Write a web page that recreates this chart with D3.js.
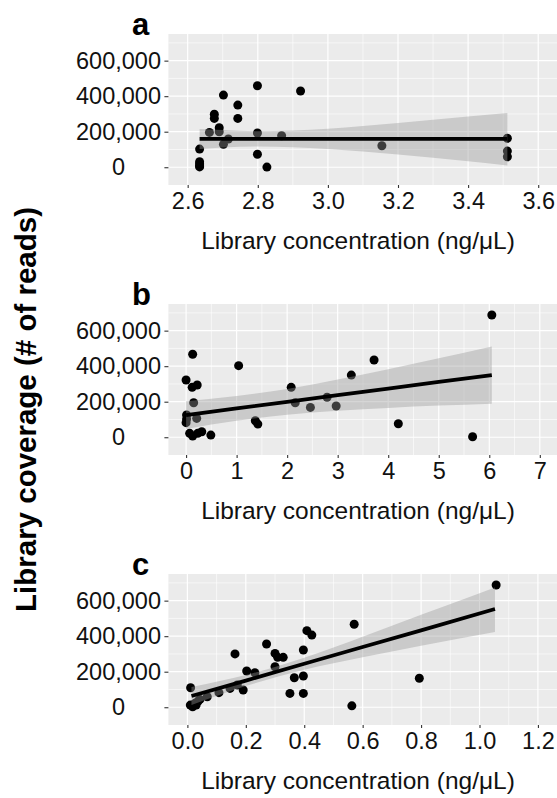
<!DOCTYPE html>
<html>
<head>
<meta charset="utf-8">
<script src="https://cdn.jsdelivr.net/npm/d3@7"></script>
<style>
  body { margin: 0; background: #fff; }
  svg { display: block; font-family: "Liberation Sans", Arial, sans-serif; }
</style>
</head>
<body>
<div id="chart"></div>
<script>
// panel a
const concA = [2.634, 2.634, 2.634, 2.634, 2.634, 2.662, 2.676, 2.676, 2.690, 2.690, 2.702, 2.702, 2.716, 2.743, 2.743, 2.799, 2.799, 2.799, 2.826, 2.868, 2.922, 3.154, 3.512, 3.512, 3.512];
const readsA = [102000, 31000, 18000, 8000, 2000, 196000, 298000, 275000, 222000, 200000, 406000, 129000, 159000, 350000, 275000, 459000, 193000, 73000, 1000, 177000, 429000, 121000, 163000, 91000, 59000];
const bandA_x = [2.634, 2.7, 2.8, 3.0, 3.2, 3.4, 3.512];
const bandA_fit = [160000, 160000, 160000, 160000, 160000, 160000, 160000];
const bandA_lo = [103000, 111000, 117000, 103000, 71000, 34000, 10000];
const bandA_hi = [215000, 209000, 203000, 217000, 249000, 286000, 306000];

// panel b
const concB = [0.13, 0.00, 0.12, 0.22, 0.15, 0.01, 0.01, 0.00, 0.21, 0.07, 0.13, 0.23, 0.31, 0.49, 1.04, 1.37, 1.42, 2.08, 2.16, 2.46, 2.79, 2.97, 3.27, 3.72, 4.20, 5.67, 6.05];
const readsB = [467000, 322000, 281000, 294000, 194000, 125000, 102000, 82000, 106000, 22000, 7000, 22000, 31000, 12000, 403000, 93000, 74000, 281000, 194000, 168000, 225000, 176000, 350000, 435000, 76000, 3000, 688000];
const bandB_x = [0, 1, 2, 3, 4, 5, 6.05];
const bandB_fit = [125000, 162000, 199000, 237000, 274000, 311000, 350000];
const bandB_lo = [47000, 93000, 126000, 149000, 165000, 178000, 189000];
const bandB_hi = [203000, 232000, 272000, 325000, 383000, 444000, 511000];

// panel c
const concC = [0.011, 0.010, 0.018, 0.026, 0.030, 0.037, 0.043, 0.068, 0.108, 0.146, 0.163, 0.171, 0.191, 0.203, 0.231, 0.271, 0.300, 0.300, 0.309, 0.328, 0.351, 0.366, 0.397, 0.397, 0.397, 0.409, 0.426, 0.563, 0.571, 0.794, 1.057];
const readsC = [110000, 12000, 3000, 22000, 12000, 35000, 44000, 59000, 82000, 106000, 300000, 125000, 97000, 204000, 194000, 356000, 303000, 228000, 281000, 281000, 78000, 166000, 322000, 176000, 78000, 431000, 406000, 8000, 467000, 163000, 688000];
const bandC_x = [0.014, 0.2, 0.4, 0.6, 0.8, 1.053];
const bandC_fit = [63000, 150000, 245000, 339000, 433000, 553000];
const bandC_lo = [12000, 119000, 211000, 281000, 346000, 424000];
const bandC_hi = [114000, 181000, 279000, 397000, 520000, 674000];

// ticks
const yTicks = [0, 200000, 400000, 600000];
const yMinor = [100000, 300000, 500000, 700000];
const xTicksA = [2.6, 2.8, 3.0, 3.2, 3.4, 3.6];
const xMinorA = [2.7, 2.9, 3.1, 3.3, 3.5];
const xTicksB = [0, 1, 2, 3, 4, 5, 6, 7];
const xMinorB = [0.5, 1.5, 2.5, 3.5, 4.5, 5.5, 6.5];
const xTicksC = [0, 0.2, 0.4, 0.6, 0.8, 1.0, 1.2];
const xMinorC = [0.1, 0.3, 0.5, 0.7, 0.9, 1.1];

const width = 557;
const height = 798;
const left = 168.4;
const right = 557.5;
const panelH = 151;
const yLabelCenter = 118.5; // y tick labels are centred, not right aligned

const svg = d3.select("#chart")
  .append("svg")
  .attr("width", width)
  .attr("height", height);

function drawPanel(p) {
  const x = d3.scaleLinear().domain(p.xDomain).range([left, right]);
  const y = d3.scaleLinear().domain([-100000, 750000]).range([p.top + panelH, p.top]);
  const g = svg.append("g");

  g.append("rect")
    .attr("x", left).attr("y", p.top)
    .attr("width", right - left).attr("height", panelH)
    .attr("fill", "#ebebeb");

  // minor grid
  g.selectAll(".vminor").data(p.xMinor).enter().append("line")
    .attr("x1", d => x(d)).attr("x2", d => x(d))
    .attr("y1", p.top).attr("y2", p.top + panelH)
    .attr("stroke", "#fff").attr("stroke-width", 0.6);
  g.selectAll(".hminor").data(yMinor).enter().append("line")
    .attr("x1", left).attr("x2", right)
    .attr("y1", d => y(d)).attr("y2", d => y(d))
    .attr("stroke", "#fff").attr("stroke-width", 0.6);
  // major grid
  g.selectAll(".vmajor").data(p.xTicks).enter().append("line")
    .attr("x1", d => x(d)).attr("x2", d => x(d))
    .attr("y1", p.top).attr("y2", p.top + panelH)
    .attr("stroke", "#fff").attr("stroke-width", 1.2);
  g.selectAll(".hmajor").data(yTicks).enter().append("line")
    .attr("x1", left).attr("x2", right)
    .attr("y1", d => y(d)).attr("y2", d => y(d))
    .attr("stroke", "#fff").attr("stroke-width", 1.2);

  // points first, ribbon goes over them like geom_smooth
  g.selectAll(".pt").data(p.conc).enter().append("circle")
    .attr("cx", d => x(d))
    .attr("cy", (d, i) => y(p.reads[i]))
    .attr("r", 4.5)
    .attr("fill", "#000");

  const band = p.bandX.map((d, i) => ({ x: d, lo: p.bandLo[i], hi: p.bandHi[i], fit: p.bandFit[i] }));
  const area = d3.area()
    .x(d => x(d.x))
    .y0(d => y(d.lo))
    .y1(d => y(d.hi))
    .curve(d3.curveMonotoneX);
  g.append("path")
    .datum(band)
    .attr("d", area)
    .attr("fill", "#999999")
    .attr("fill-opacity", 0.4);

  const line = d3.line().x(d => x(d.x)).y(d => y(d.fit));
  g.append("path")
    .datum(band)
    .attr("d", line)
    .attr("fill", "none")
    .attr("stroke", "#000")
    .attr("stroke-width", 3.8);

  // axes
  const yAxis = d3.axisLeft(y).tickValues(yTicks).tickFormat(d3.format(",")).tickSize(4);
  const ya = g.append("g").attr("transform", `translate(${left},0)`).call(yAxis);
  ya.selectAll(".tick text")
    .attr("x", yLabelCenter - left)
    .attr("text-anchor", "middle");
  const xAxis = d3.axisBottom(x).tickValues(p.xTicks).tickFormat(p.fmt).tickSize(3).tickPadding(4);
  const xa = g.append("g").attr("transform", `translate(0,${p.top + panelH})`).call(xAxis);
  [ya, xa].forEach(a => {
    a.select(".domain").remove();
    a.selectAll(".tick line").attr("stroke", "#333").attr("stroke-width", 1.1);
    a.selectAll(".tick text")
      .attr("fill", "#111")
      .style("font-size", "23.5px")
      .style("font-family", "'Liberation Sans', Arial, sans-serif");
  });

  g.append("text")
    .attr("x", 358)
    .attr("y", p.top + panelH + 64)
    .attr("text-anchor", "middle")
    .style("font-size", "24.5px")
    .attr("fill", "#111")
    .text("Library concentration (ng/\u03BCL)");

  g.append("text")
    .attr("x", 132)
    .attr("y", p.top + 1)
    .style("font-size", "31px")
    .style("font-weight", "bold")
    .attr("fill", "#000")
    .text(p.label);
}

drawPanel({ label: "a", top: 34, xDomain: [2.545, 3.655], xTicks: xTicksA, xMinor: xMinorA, fmt: d3.format(".1f"),
  conc: concA, reads: readsA, bandX: bandA_x, bandLo: bandA_lo, bandHi: bandA_hi, bandFit: bandA_fit });
drawPanel({ label: "b", top: 304, xDomain: [-0.35, 7.35], xTicks: xTicksB, xMinor: xMinorB, fmt: d3.format("d"),
  conc: concB, reads: readsB, bandX: bandB_x, bandLo: bandB_lo, bandHi: bandB_hi, bandFit: bandB_fit });
drawPanel({ label: "c", top: 574, xDomain: [-0.065, 1.267], xTicks: xTicksC, xMinor: xMinorC, fmt: d3.format(".1f"),
  conc: concC, reads: readsC, bandX: bandC_x, bandLo: bandC_lo, bandHi: bandC_hi, bandFit: bandC_fit });

// shared y title
svg.append("text")
  .attr("transform", "translate(36,409.5) rotate(-90)")
  .attr("text-anchor", "middle")
  .style("font-size", "29.5px")
  .style("font-weight", "bold")
  .attr("fill", "#000")
  .text("Library coverage (# of reads)");
</script>
</body>
</html>
